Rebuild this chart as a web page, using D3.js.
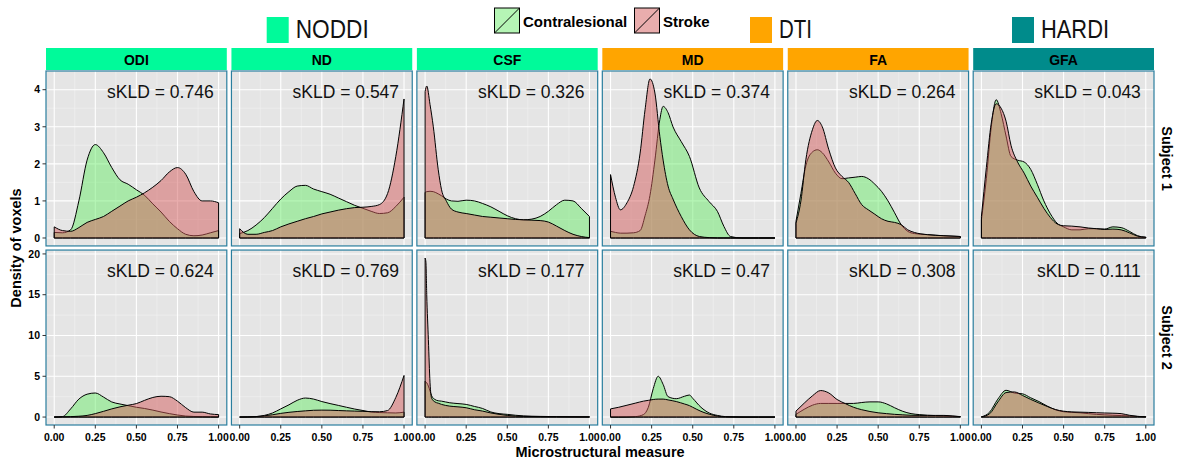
<!DOCTYPE html>
<html lang="en">
<head>
<meta charset="UTF-8">
<title>sKLD density panels</title>
<script src="https://d3js.org/d3.v7.min.js"></script>
<style>
  body { margin: 0; background: #fff; }
  svg { display: block; }
  text { font-family: "Liberation Sans", Arial, Helvetica, sans-serif; }
  .tick-label { font-size: 10.5px; font-weight: bold; fill: #000; }
  .strip-label { font-size: 14px; font-weight: bold; fill: #000; }
  .axis-title { font-size: 14.5px; font-weight: bold; fill: #000; }
  .skld { font-size: 17.5px; fill: #111; }
  .legend-label { font-size: 15px; font-weight: bold; fill: #000; }
  .group-label { font-size: 26px; fill: #111; }
</style>
</head>
<body>
<script>
// ---- categories ----
const measures = ["ODI", "ND", "CSF", "MD", "FA", "GFA"];
const measureGroup = ["NODDI", "NODDI", "NODDI", "DTI", "DTI", "HARDI"];
const groups = ["NODDI", "DTI", "HARDI"];
const groupColors = ["#00FA9A", "#FFA500", "#008B8B"];
const subjects = ["Subject 1", "Subject 2"];
const seriesNames = ["Contralesional", "Stroke"];

const skld1 = [0.746, 0.547, 0.326, 0.374, 0.264, 0.043];
const skld2 = [0.624, 0.769, 0.177, 0.47, 0.308, 0.111];

const xTicks = [0, 0.25, 0.5, 0.75, 1];
const yTicks1 = [0, 1, 2, 3, 4];
const yTicks2 = [0, 5, 10, 15, 20];

// ---- density values ----
const grid05 = [0, 0.05, 0.1, 0.15, 0.2, 0.25, 0.3, 0.35, 0.4, 0.45, 0.5, 0.55, 0.6, 0.65, 0.7, 0.75, 0.8, 0.85, 0.9, 0.95, 1];

// Subject 1
const odi1Contra = [0.15, 0.14, 0.22, 1.0, 2.1, 2.52, 2.3, 1.9, 1.57, 1.45, 1.3, 1.15, 0.92, 0.7, 0.45, 0.25, 0.1, 0.06, 0.08, 0.14, 0.2];
const odi1Stroke = [0.3, 0.2, 0.18, 0.28, 0.42, 0.5, 0.58, 0.72, 0.86, 1.0, 1.1, 1.22, 1.37, 1.55, 1.78, 1.9, 1.72, 1.25, 1.0, 1.0, 0.95];

const nd1Contra = [0.12, 0.2, 0.35, 0.55, 0.8, 1.05, 1.25, 1.4, 1.42, 1.32, 1.25, 1.18, 1.08, 0.98, 0.88, 0.8, 0.72, 0.66, 0.68, 0.85, 1.1];
const nd1Stroke = [0.25, 0.1, 0.1, 0.15, 0.2, 0.3, 0.38, 0.45, 0.52, 0.58, 0.65, 0.7, 0.75, 0.79, 0.82, 0.83, 0.85, 0.9, 1.2, 2.2, 3.75];

const csf1X = [0, 0.01, 0.03, 0.05, 0.08, 0.1, 0.13, 0.16, 0.2, 0.25, 0.3, 0.35, 0.4, 0.45, 0.5, 0.55, 0.6, 0.65, 0.7, 0.75, 0.8, 0.85, 0.9, 0.95, 1];
const csf1Contra = [1.23, 1.25, 1.26, 1.25, 1.19, 1.14, 1.05, 1.0, 0.99, 1.02, 1.0, 0.93, 0.84, 0.72, 0.6, 0.52, 0.49, 0.51, 0.58, 0.72, 0.9, 1.02, 1.0, 0.8, 0.58];
const csf1Stroke = [3.95, 4.1, 3.6, 3.0, 1.84, 1.3, 0.99, 0.78, 0.7, 0.66, 0.62, 0.58, 0.56, 0.54, 0.52, 0.5, 0.49, 0.48, 0.47, 0.43, 0.32, 0.2, 0.1, 0.04, 0.01];

const md1X = [0, 0.03, 0.06, 0.1, 0.14, 0.18, 0.21, 0.24, 0.27, 0.3, 0.32, 0.35, 0.38, 0.43, 0.48, 0.54, 0.6, 0.65, 0.69, 0.73, 0.8, 0.9, 1];
const md1Contra = [0.18, 0.15, 0.13, 0.13, 0.14, 0.2, 0.6, 1.15, 2.1, 3.2, 3.55, 3.38, 3.0, 2.6, 2.2, 1.35, 0.98, 0.72, 0.31, 0.04, 0, 0, 0];
const md1Stroke = [1.71, 1.1, 0.76, 0.95, 1.39, 2.29, 3.46, 4.29, 3.91, 2.74, 2.1, 1.4, 1.05, 0.58, 0.22, 0.04, 0.01, 0, 0, 0, 0, 0, 0];

const fa1X = [0, 0.03, 0.06, 0.1, 0.13, 0.16, 0.2, 0.24, 0.28, 0.32, 0.36, 0.4, 0.44, 0.48, 0.52, 0.56, 0.6, 0.64, 0.68, 0.72, 0.8, 0.9, 1];
const fa1Contra = [0.45, 1.2, 1.95, 2.32, 2.38, 2.3, 2.05, 1.75, 1.6, 1.62, 1.64, 1.66, 1.6, 1.45, 1.26, 1.0, 0.68, 0.36, 0.18, 0.12, 0.09, 0.06, 0.04];
const fa1Stroke = [0.4, 1.0, 2.11, 2.92, 3.17, 3.0, 2.38, 1.89, 1.66, 1.5, 1.2, 0.9, 0.76, 0.64, 0.52, 0.45, 0.42, 0.36, 0.22, 0.15, 0.09, 0.06, 0.04];

const gfa1X = [0, 0.03, 0.06, 0.09, 0.12, 0.15, 0.18, 0.22, 0.26, 0.3, 0.34, 0.38, 0.42, 0.46, 0.5, 0.55, 0.6, 0.65, 0.7, 0.75, 0.8, 0.85, 0.9, 0.95, 1];
const gfa1Contra = [0.49, 1.6, 3.0, 3.73, 3.35, 2.75, 2.2, 2.1, 2.05, 1.85, 1.45, 1.0, 0.65, 0.4, 0.3, 0.22, 0.22, 0.25, 0.25, 0.24, 0.3, 0.28, 0.18, 0.06, 0.02];
const gfa1Stroke = [0.58, 1.9, 3.1, 3.62, 3.5, 3.15, 2.5, 2.05, 1.75, 1.4, 1.1, 0.8, 0.55, 0.38, 0.33, 0.32, 0.3, 0.27, 0.25, 0.23, 0.24, 0.22, 0.14, 0.05, 0.02];

// Subject 2
const odi2Contra = [0, 0.05, 1.0, 2.2, 2.8, 2.95, 2.45, 1.85, 1.6, 1.4, 1.2, 1.05, 0.85, 0.62, 0.42, 0.25, 0.12, 0.07, 0.05, 0.03, 0.02];
const odi2Stroke = [0, 0.02, 0.05, 0.1, 0.2, 0.42, 0.7, 1.0, 1.25, 1.45, 1.65, 2.05, 2.4, 2.55, 2.5, 1.95, 1.15, 0.6, 0.6, 0.38, 0.3];

const nd2Contra = [0, 0.01, 0.05, 0.2, 0.5, 1.0, 1.5, 2.05, 2.33, 2.2, 1.9, 1.65, 1.43, 1.2, 0.98, 0.8, 0.62, 0.55, 0.52, 0.5, 0.6];
const nd2Stroke = [0, 0.02, 0.06, 0.15, 0.28, 0.45, 0.58, 0.68, 0.76, 0.83, 0.85, 0.84, 0.8, 0.76, 0.73, 0.7, 0.66, 0.65, 0.8, 2.4, 5.1];

const csf2X = [0, 0.005, 0.01, 0.02, 0.03, 0.04, 0.06, 0.08, 0.1, 0.15, 0.2, 0.25, 0.3, 0.35, 0.4, 0.45, 0.5, 0.55, 0.6, 0.7, 0.8, 0.9, 1];
const csf2Contra = [4.4, 4.3, 4.2, 3.8, 3.2, 2.6, 2.15, 2.0, 1.95, 1.75, 1.65, 1.55, 1.3, 1.05, 0.62, 0.42, 0.33, 0.22, 0.14, 0.08, 0.05, 0.03, 0.02];
const csf2Stroke = [19.5, 19.0, 15, 9.5, 4.2, 2.3, 1.85, 1.7, 1.55, 1.34, 1.25, 1.14, 0.9, 0.73, 0.5, 0.33, 0.2, 0.12, 0.08, 0.05, 0.04, 0.03, 0.02];

const md2X = [0, 0.05, 0.1, 0.15, 0.2, 0.23, 0.26, 0.29, 0.32, 0.35, 0.4, 0.45, 0.48, 0.5, 0.55, 0.6, 0.65, 0.7, 0.75, 0.8, 0.9, 1];
const md2Contra = [0, 0, 0.01, 0.05, 0.3, 1.2, 3.5, 5.0, 4.0, 2.5, 2.25, 2.55, 2.7, 2.3, 1.2, 0.5, 0.2, 0.05, 0.02, 0, 0, 0];
const md2Stroke = [1.0, 1.2, 1.45, 1.7, 1.95, 2.05, 2.15, 2.2, 2.2, 2.1, 1.9, 1.6, 1.4, 1.2, 0.7, 0.35, 0.12, 0.03, 0.01, 0, 0, 0];

const fa2Contra = [0.33, 0.95, 1.45, 1.67, 1.67, 1.67, 1.67, 1.67, 1.78, 1.86, 1.86, 1.62, 1.14, 0.7, 0.42, 0.3, 0.22, 0.18, 0.14, 0.1, 0.05];
const fa2Stroke = [0.73, 1.7, 2.6, 3.25, 2.95, 2.15, 1.65, 1.2, 0.9, 0.68, 0.52, 0.42, 0.33, 0.27, 0.22, 0.2, 0.2, 0.2, 0.2, 0.14, 0.05];

const gfa2Contra = [0.02, 0.6, 2.2, 3.28, 2.95, 2.85, 2.36, 1.9, 1.35, 0.9, 0.65, 0.58, 0.52, 0.42, 0.33, 0.27, 0.22, 0.18, 0.14, 0.08, 0.03];
const gfa2Stroke = [0.02, 0.4, 1.85, 3.0, 3.08, 2.65, 2.16, 1.72, 1.3, 0.92, 0.72, 0.63, 0.6, 0.57, 0.53, 0.5, 0.47, 0.42, 0.22, 0.08, 0.03];

// rows of panels: [x values, contralesional, stroke]
const panelRows = [
  [[grid05, odi1Contra, odi1Stroke], [grid05, nd1Contra, nd1Stroke], [csf1X, csf1Contra, csf1Stroke],
   [md1X, md1Contra, md1Stroke], [fa1X, fa1Contra, fa1Stroke], [gfa1X, gfa1Contra, gfa1Stroke]],
  [[grid05, odi2Contra, odi2Stroke], [grid05, nd2Contra, nd2Stroke], [csf2X, csf2Contra, csf2Stroke],
   [md2X, md2Contra, md2Stroke], [grid05, fa2Contra, fa2Stroke], [grid05, gfa2Contra, gfa2Stroke]]
];
const skldRows = [skld1, skld2];
const yTickRows = [yTicks1, yTicks2];

// ---- layout ----
const W = 1177, H = 462;
const fillColors = ["#6BEB6B", "#D35B5B"];
const panelBorder = "#2A7E9E";

const svg = d3.select("body").append("svg")
  .attr("width", W)
  .attr("height", H);

const col = d3.scaleBand().domain(measures).range([46, 1154]).paddingInner(0.025);
const row = d3.scaleBand().domain(subjects).range([71, 425]).paddingInner(0.023);
const pw = col.bandwidth(), ph = row.bandwidth();

// top group legend (NODDI / DTI / HARDI)
const groupPos = [266.7, 750, 1012];
const groupTextLen = [73, 33, 68];
const gGroups = svg.append("g");
groups.forEach((g, i) => {
  gGroups.append("rect")
    .attr("x", groupPos[i]).attr("y", 17)
    .attr("width", 22).attr("height", 26)
    .attr("fill", groupColors[i]);
  gGroups.append("text")
    .attr("class", "group-label")
    .attr("x", groupPos[i] + 29).attr("y", 37.5)
    .attr("textLength", groupTextLen[i])
    .attr("lengthAdjust", "spacingAndGlyphs")
    .text(g);
});

// fill legend
const legendPos = [494.5, 634.5];
const gLegend = svg.append("g");
seriesNames.forEach((s, i) => {
  const k = gLegend.append("g").attr("transform", `translate(${legendPos[i]},8)`);
  k.append("rect").attr("width", 25).attr("height", 25).attr("fill", "#fff");
  k.append("rect").attr("width", 25).attr("height", 25)
    .attr("fill", fillColors[i]).attr("fill-opacity", 0.5)
    .attr("stroke", "#000").attr("stroke-width", 1);
  k.append("line").attr("x1", 0).attr("y1", 25).attr("x2", 25).attr("y2", 0)
    .attr("stroke", "#000").attr("stroke-width", 1);
  k.append("text").attr("class", "legend-label")
    .attr("x", 28.5).attr("y", 18.5)
    .text(s);
});

const defs = svg.append("defs");

panelRows.forEach((cells, r) => {
  const top = row(subjects[r]);
  const rowMax = d3.max(cells, c => d3.max(c[1].concat(c[2])));
  const y = d3.scaleLinear()
    .domain([-0.05 * rowMax, 1.05 * rowMax])
    .range([top + ph, top]);
  const yTicks = yTickRows[r];
  const yMinor = d3.pairs(yTicks).map(p => (p[0] + p[1]) / 2)
    .concat([yTicks[yTicks.length - 1] + (yTicks[1] - yTicks[0]) / 2])
    .filter(v => v < y.domain()[1]);

  cells.forEach((cell, c) => {
    const left = col(measures[c]);
    const x = d3.scaleLinear().domain([-0.05, 1.05]).range([left, left + pw]);
    const xMinor = d3.pairs(xTicks).map(p => (p[0] + p[1]) / 2);
    const g = svg.append("g");
    const clipId = `clip-${r}-${c}`;
    defs.append("clipPath").attr("id", clipId)
      .append("rect").attr("x", left).attr("y", top).attr("width", pw).attr("height", ph);

    g.append("rect")
      .attr("x", left).attr("y", top).attr("width", pw).attr("height", ph)
      .attr("fill", "#E5E5E5");

    // grid
    g.selectAll(".xminor").data(xMinor).enter().append("line")
      .attr("x1", d => x(d)).attr("x2", d => x(d))
      .attr("y1", top).attr("y2", top + ph)
      .attr("stroke", "#F2F2F2").attr("stroke-width", 0.6);
    g.selectAll(".yminor").data(yMinor).enter().append("line")
      .attr("y1", d => y(d)).attr("y2", d => y(d))
      .attr("x1", left).attr("x2", left + pw)
      .attr("stroke", "#F2F2F2").attr("stroke-width", 0.6);
    g.selectAll(".xmajor").data(xTicks).enter().append("line")
      .attr("x1", d => x(d)).attr("x2", d => x(d))
      .attr("y1", top).attr("y2", top + ph)
      .attr("stroke", "#fff").attr("stroke-width", 1.1);
    g.selectAll(".ymajor").data(yTicks).enter().append("line")
      .attr("y1", d => y(d)).attr("y2", d => y(d))
      .attr("x1", left).attr("x2", left + pw)
      .attr("stroke", "#fff").attr("stroke-width", 1.1);

    // densities
    const xs = cell[0];
    const area = d3.area()
      .x((d, i) => x(xs[i]))
      .y0(y(0))
      .y1(d => y(d))
      .curve(d3.curveMonotoneX);
    const gArea = g.append("g").attr("clip-path", `url(#${clipId})`);
    [cell[1], cell[2]].forEach((vals, k) => {
      gArea.append("path")
        .attr("d", area(vals))
        .attr("fill", fillColors[k])
        .attr("fill-opacity", 0.5)
        .attr("stroke", "#000")
        .attr("stroke-width", 1)
        .attr("stroke-linejoin", "round");
    });

    // sKLD label
    g.append("text")
      .attr("class", "skld")
      .attr("x", x(0.97))
      .attr("y", top + 27)
      .attr("text-anchor", "end")
      .text("sKLD = " + skldRows[r][c]);

    // panel border
    g.append("rect")
      .attr("x", left).attr("y", top).attr("width", pw).attr("height", ph)
      .attr("fill", "none").attr("stroke", panelBorder).attr("stroke-width", 1.2);

    // y axis on first column
    if (c === 0) {
      yTicks.forEach(t => {
        g.append("line")
          .attr("x1", left - 3.5).attr("x2", left)
          .attr("y1", y(t)).attr("y2", y(t))
          .attr("stroke", "#333").attr("stroke-width", 1);
        g.append("text").attr("class", "tick-label")
          .attr("x", left - 6).attr("y", y(t))
          .attr("dy", "0.36em")
          .attr("text-anchor", "end")
          .text(t);
      });
    }
    // x axis on bottom row
    if (r === panelRows.length - 1) {
      xTicks.forEach(t => {
        g.append("line")
          .attr("x1", x(t)).attr("x2", x(t))
          .attr("y1", top + ph).attr("y2", top + ph + 3.5)
          .attr("stroke", "#333").attr("stroke-width", 1);
        g.append("text").attr("class", "tick-label")
          .attr("x", x(t)).attr("y", top + ph + 15.5)
          .attr("text-anchor", "middle")
          .text(d3.format(".2f")(t));
      });
    }
  });

  // row strip on the right
  svg.append("text")
    .attr("class", "axis-title")
    .attr("transform", `translate(1162,${top + ph / 2}) rotate(90)`)
    .attr("text-anchor", "middle")
    .text(subjects[r]);
});

// column strips
measures.forEach((m, c) => {
  const gi = groups.indexOf(measureGroup[c]);
  svg.append("rect")
    .attr("x", col(m)).attr("y", 48)
    .attr("width", pw).attr("height", 22)
    .attr("fill", groupColors[gi]);
  svg.append("text")
    .attr("class", "strip-label")
    .attr("x", col(m) + pw / 2).attr("y", 64.5)
    .attr("text-anchor", "middle")
    .text(m);
});

// axis titles
svg.append("text")
  .attr("class", "axis-title")
  .attr("x", 600).attr("y", 457)
  .attr("text-anchor", "middle")
  .text("Microstructural measure");

svg.append("text")
  .attr("class", "axis-title")
  .attr("transform", `translate(21,${(71 + 425) / 2}) rotate(-90)`)
  .attr("text-anchor", "middle")
  .text("Density of voxels");
</script>
</body>
</html>
